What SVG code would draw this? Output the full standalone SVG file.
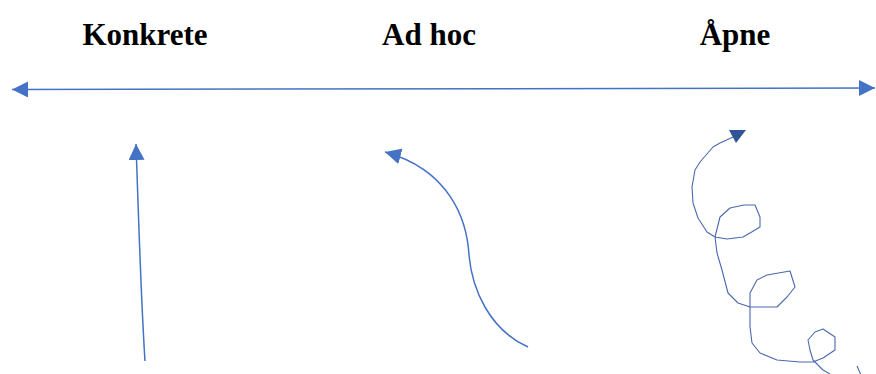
<svg xmlns="http://www.w3.org/2000/svg" width="876" height="374" viewBox="0 0 876 374">
<style>
.lbl{font-family:"Liberation Serif","Times New Roman",serif;font-weight:bold;font-size:31px;fill:#000;text-anchor:middle}
.ln{fill:none;stroke:#4472C4;stroke-width:1.5}
.sq{fill:none;stroke:#4A68AE;stroke-width:1.1;stroke-linejoin:round}
</style>
<defs>
<marker id="ah2" viewBox="0 0 10 10" refX="10" refY="5" markerWidth="16" markerHeight="16" markerUnits="userSpaceOnUse" orient="auto-start-reverse">
<path d="M0,0 L10,5 L0,10 Z" fill="#4472C4"/>
</marker>
</defs>
<rect width="876" height="374" fill="#fff"/>
<g id="label-konkrete"><text class="lbl" x="145" y="45">Konkrete</text></g>
<g id="label-adhoc"><text class="lbl" x="429" y="45">Ad hoc</text></g>
<g id="label-apne"><text class="lbl" x="735" y="45">Åpne</text></g>
<g id="connectors">
<path class="ln" d="M12,89.5 L875,88" marker-start="url(#ah2)" marker-end="url(#ah2)"/>
<path class="ln" d="M145,361 C141,300 139,230 136,144" marker-end="url(#ah2)"/>
<path class="ln" d="M528,347 C490,330 472,290 469,255 C467,220 450,170 385,152" marker-end="url(#ah2)"/>
<path class="sq" d="M733,137 L720,143 L713,147 L700,162 L695,170 L692,187 L693,203 L698,218 L707,232 L715,237 L720,217 L730,208 L744,205 L755,205 L760,217 L760,227 L750,233 L743,237 L727,239 L715,237 L717,253 L722,270 L728,293 L738,303 L750,307 L750,293 L757,280 L767,275 L790,271 L795,287 L787,297 L777,307 L750,307 L750,327 L752,343 L760,353 L777,360 L800,362 L813,362 L823,358 L835,350 L835,337 L823,329 L815,332 L808,340 L810,350 L813,360 L823,370 L830,374"/>
<path class="sq" d="M857,366 L861,375"/>
<polygon points="729,130 746,130 736,143" fill="#2F5597"/>
</g>
</svg>
